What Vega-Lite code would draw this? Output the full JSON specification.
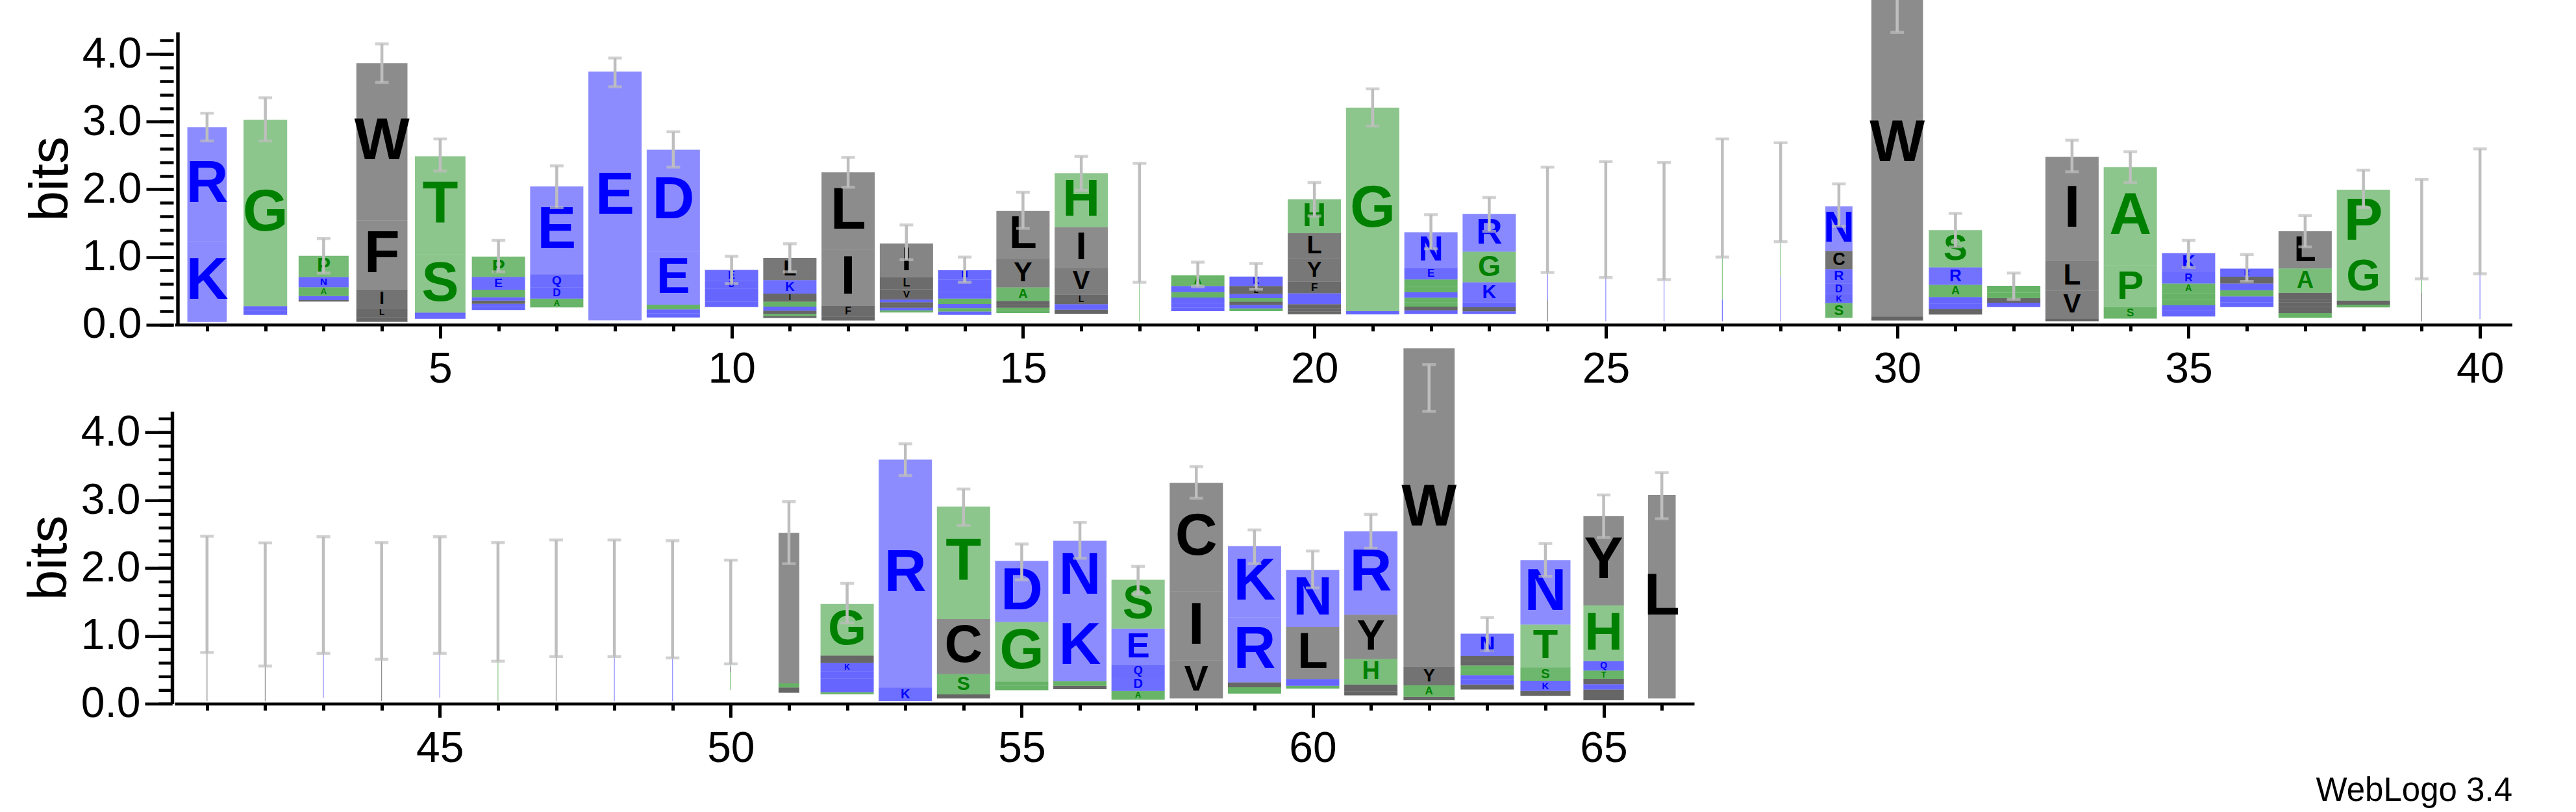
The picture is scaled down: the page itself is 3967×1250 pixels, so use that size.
{
"$schema": "https://vega.github.io/schema/vega-lite/v6.json",
"background": "white",
"padding": {"left": 34, "top": 0, "right": 0, "bottom": 0},
"autosize": {"type": "pad"},
"title": {"text": "WebLogo 3.4", "orient": "bottom", "anchor": "end", "font": "Liberation Sans", "fontSize": 51, "fontWeight": "normal", "color": "#000", "offset": 8},
"config": {
  "view": {"stroke": null},
  "axis": {"domainColor": "#000", "tickColor": "#000", "labelColor": "#000", "titleColor": "#000", "labelFont": "Liberation Sans", "titleFont": "Liberation Sans", "labelFontSize": 66, "titleFontSize": 84, "titleFontWeight": "normal", "grid": false, "tickWidth": 5, "domainWidth": 5, "labelFlush": false, "labelOverlap": false}
},
"datasets": {
"top_letters": [
{"pos":1,"aa":".","bits":0.038,"k":0},{"pos":1,"aa":"K","bits":1.196,"k":1},{"pos":1,"aa":"R","bits":1.683,"k":2},
{"pos":2,"aa":".","bits":0.144,"k":0},{"pos":2,"aa":"K","bits":0.07,"k":1},{"pos":2,"aa":"R","bits":0.06,"k":2},{"pos":2,"aa":"G","bits":2.754,"k":3},
{"pos":3,"aa":".","bits":0.341,"k":0},{"pos":3,"aa":"L","bits":0.02,"k":1},{"pos":3,"aa":"K","bits":0.03,"k":2},{"pos":3,"aa":"E","bits":0.03,"k":3},{"pos":3,"aa":"A","bits":0.13,"k":4},{"pos":3,"aa":"N","bits":0.152,"k":5},{"pos":3,"aa":"P","bits":0.315,"k":6},
{"pos":4,"aa":".","bits":0.04,"k":0},{"pos":4,"aa":"Y","bits":0.035,"k":1},{"pos":4,"aa":"V","bits":0.035,"k":2},{"pos":4,"aa":"L","bits":0.135,"k":3},{"pos":4,"aa":"I","bits":0.275,"k":4},{"pos":4,"aa":"F","bits":1.02,"k":5},{"pos":4,"aa":"W","bits":2.326,"k":6},
{"pos":5,"aa":".","bits":0.087,"k":0},{"pos":5,"aa":"K","bits":0.04,"k":1},{"pos":5,"aa":"N","bits":0.05,"k":2},{"pos":5,"aa":"S","bits":0.86,"k":3},{"pos":5,"aa":"T","bits":1.454,"k":4},
{"pos":6,"aa":".","bits":0.216,"k":0},{"pos":6,"aa":"N","bits":0.045,"k":1},{"pos":6,"aa":"K","bits":0.045,"k":2},{"pos":6,"aa":"L","bits":0.05,"k":3},{"pos":6,"aa":"D","bits":0.05,"k":4},{"pos":6,"aa":"A","bits":0.11,"k":5},{"pos":6,"aa":"E","bits":0.19,"k":6},{"pos":6,"aa":"P","bits":0.3,"k":7},
{"pos":7,"aa":".","bits":0.253,"k":0},{"pos":7,"aa":"A","bits":0.13,"k":1},{"pos":7,"aa":"D","bits":0.17,"k":2},{"pos":7,"aa":"Q","bits":0.19,"k":3},{"pos":7,"aa":"E","bits":1.3,"k":4},
{"pos":8,"aa":".","bits":0.061,"k":0},{"pos":8,"aa":"E","bits":3.68,"k":1},
{"pos":9,"aa":".","bits":0.106,"k":0},{"pos":9,"aa":"Q","bits":0.06,"k":1},{"pos":9,"aa":"N","bits":0.06,"k":2},{"pos":9,"aa":"T","bits":0.07,"k":3},{"pos":9,"aa":"E","bits":0.78,"k":4},{"pos":9,"aa":"D","bits":1.51,"k":5},
{"pos":10,"aa":".","bits":0.259,"k":0},{"pos":10,"aa":"N","bits":0.08,"k":1},{"pos":10,"aa":"Q","bits":0.09,"k":2},{"pos":10,"aa":"K","bits":0.1,"k":3},{"pos":10,"aa":"D","bits":0.12,"k":4},{"pos":10,"aa":"E","bits":0.16,"k":5},
{"pos":11,"aa":".","bits":0.097,"k":0},{"pos":11,"aa":"F","bits":0.03,"k":1},{"pos":11,"aa":"T","bits":0.03,"k":2},{"pos":11,"aa":"V","bits":0.05,"k":3},{"pos":11,"aa":"R","bits":0.06,"k":4},{"pos":11,"aa":"G","bits":0.07,"k":5},{"pos":11,"aa":"I","bits":0.12,"k":6},{"pos":11,"aa":"K","bits":0.2,"k":7},{"pos":11,"aa":"L","bits":0.33,"k":8},
{"pos":12,"aa":".","bits":0.06,"k":0},{"pos":12,"aa":"V","bits":0.06,"k":1},{"pos":12,"aa":"F","bits":0.16,"k":2},{"pos":12,"aa":"I","bits":0.83,"k":3},{"pos":12,"aa":"L","bits":1.142,"k":4},
{"pos":13,"aa":".","bits":0.18,"k":0},{"pos":13,"aa":"S","bits":0.03,"k":1},{"pos":13,"aa":"N","bits":0.04,"k":2},{"pos":13,"aa":"Y","bits":0.04,"k":3},{"pos":13,"aa":"F","bits":0.04,"k":4},{"pos":13,"aa":"K","bits":0.04,"k":5},{"pos":13,"aa":"V","bits":0.15,"k":6},{"pos":13,"aa":"L","bits":0.18,"k":7},{"pos":13,"aa":"I","bits":0.5,"k":8},
{"pos":14,"aa":".","bits":0.144,"k":0},{"pos":14,"aa":"R","bits":0.05,"k":1},{"pos":14,"aa":"S","bits":0.05,"k":2},{"pos":14,"aa":"D","bits":0.06,"k":3},{"pos":14,"aa":"G","bits":0.08,"k":4},{"pos":14,"aa":"K","bits":0.1,"k":5},{"pos":14,"aa":"Q","bits":0.08,"k":6},{"pos":14,"aa":"E","bits":0.1,"k":7},{"pos":14,"aa":"N","bits":0.14,"k":8},
{"pos":15,"aa":".","bits":0.17,"k":0},{"pos":15,"aa":"T","bits":0.04,"k":1},{"pos":15,"aa":"S","bits":0.04,"k":2},{"pos":15,"aa":"M","bits":0.04,"k":3},{"pos":15,"aa":"F","bits":0.06,"k":4},{"pos":15,"aa":"A","bits":0.2,"k":5},{"pos":15,"aa":"Y","bits":0.43,"k":6},{"pos":15,"aa":"L","bits":0.7,"k":7},
{"pos":16,"aa":".","bits":0.161,"k":0},{"pos":16,"aa":"F","bits":0.06,"k":1},{"pos":16,"aa":"D","bits":0.08,"k":2},{"pos":16,"aa":"L","bits":0.14,"k":3},{"pos":16,"aa":"V","bits":0.4,"k":4},{"pos":16,"aa":"I","bits":0.6,"k":5},{"pos":16,"aa":"H","bits":0.8,"k":6},
{"pos":17,"aa":".","bits":0.046,"k":0},{"pos":17,"aa":"S","bits":1.46,"k":1},
{"pos":18,"aa":".","bits":0.2,"k":0},{"pos":18,"aa":"N","bits":0.05,"k":1},{"pos":18,"aa":"D","bits":0.07,"k":2},{"pos":18,"aa":"K","bits":0.08,"k":3},{"pos":18,"aa":"G","bits":0.08,"k":4},{"pos":18,"aa":"E","bits":0.09,"k":5},{"pos":18,"aa":"A","bits":0.16,"k":6},
{"pos":19,"aa":".","bits":0.2,"k":0},{"pos":19,"aa":"G","bits":0.04,"k":1},{"pos":19,"aa":"D","bits":0.05,"k":2},{"pos":19,"aa":"F","bits":0.05,"k":3},{"pos":19,"aa":"S","bits":0.05,"k":4},{"pos":19,"aa":"E","bits":0.06,"k":5},{"pos":19,"aa":"L","bits":0.12,"k":6},{"pos":19,"aa":"K","bits":0.14,"k":7},
{"pos":20,"aa":".","bits":0.153,"k":0},{"pos":20,"aa":"V","bits":0.04,"k":1},{"pos":20,"aa":"I","bits":0.05,"k":2},{"pos":20,"aa":"W","bits":0.06,"k":3},{"pos":20,"aa":"E","bits":0.06,"k":4},{"pos":20,"aa":"K","bits":0.1,"k":5},{"pos":20,"aa":"F","bits":0.17,"k":6},{"pos":20,"aa":"Y","bits":0.34,"k":7},{"pos":20,"aa":"L","bits":0.38,"k":8},{"pos":20,"aa":"H","bits":0.5,"k":9},
{"pos":21,"aa":".","bits":0.15,"k":0},{"pos":21,"aa":"K","bits":0.05,"k":1},{"pos":21,"aa":"G","bits":3.009,"k":2},
{"pos":22,"aa":".","bits":0.157,"k":0},{"pos":22,"aa":"K","bits":0.055,"k":1},{"pos":22,"aa":"L","bits":0.055,"k":2},{"pos":22,"aa":"A","bits":0.06,"k":3},{"pos":22,"aa":"T","bits":0.07,"k":4},{"pos":22,"aa":"D","bits":0.08,"k":5},{"pos":22,"aa":"S","bits":0.09,"k":6},{"pos":22,"aa":"G","bits":0.1,"k":7},{"pos":22,"aa":"E","bits":0.17,"k":8},{"pos":22,"aa":"N","bits":0.53,"k":9},
{"pos":23,"aa":".","bits":0.157,"k":0},{"pos":23,"aa":"Q","bits":0.04,"k":1},{"pos":23,"aa":"L","bits":0.06,"k":2},{"pos":23,"aa":"N","bits":0.07,"k":3},{"pos":23,"aa":"K","bits":0.3,"k":4},{"pos":23,"aa":"G","bits":0.45,"k":5},{"pos":23,"aa":"R","bits":0.56,"k":6},
{"pos":24,"aa":".","bits":0.05,"k":0},{"pos":24,"aa":"L","bits":0.32,"k":1},{"pos":24,"aa":"D","bits":0.38,"k":2},{"pos":24,"aa":"S","bits":0.8,"k":3},
{"pos":25,"aa":".","bits":0.05,"k":0},{"pos":25,"aa":"N","bits":1.5,"k":1},
{"pos":26,"aa":".","bits":0.05,"k":0},{"pos":26,"aa":"N","bits":1.48,"k":1},
{"pos":27,"aa":".","bits":0.05,"k":0},{"pos":27,"aa":"N","bits":0.32,"k":1},{"pos":27,"aa":"S","bits":1.5,"k":2},
{"pos":28,"aa":".","bits":0.05,"k":0},{"pos":28,"aa":"N","bits":0.66,"k":1},{"pos":28,"aa":"G","bits":1.25,"k":2},
{"pos":29,"aa":".","bits":0.1,"k":0},{"pos":29,"aa":"S","bits":0.22,"k":1},{"pos":29,"aa":"K","bits":0.13,"k":2},{"pos":29,"aa":"D","bits":0.16,"k":3},{"pos":29,"aa":"R","bits":0.21,"k":4},{"pos":29,"aa":"C","bits":0.27,"k":5},{"pos":29,"aa":"N","bits":0.66,"k":6},
{"pos":30,"aa":".","bits":0.06,"k":0},{"pos":30,"aa":"F","bits":0.06,"k":1},{"pos":30,"aa":"W","bits":5.12,"k":2},
{"pos":31,"aa":".","bits":0.148,"k":0},{"pos":31,"aa":"L","bits":0.08,"k":1},{"pos":31,"aa":"K","bits":0.08,"k":2},{"pos":31,"aa":"N","bits":0.1,"k":3},{"pos":31,"aa":"A","bits":0.18,"k":4},{"pos":31,"aa":"R","bits":0.26,"k":5},{"pos":31,"aa":"S","bits":0.55,"k":6},
{"pos":32,"aa":".","bits":0.258,"k":0},{"pos":32,"aa":"N","bits":0.065,"k":1},{"pos":32,"aa":"L","bits":0.07,"k":2},{"pos":32,"aa":"S","bits":0.08,"k":3},{"pos":32,"aa":"A","bits":0.1,"k":4},
{"pos":33,"aa":".","bits":0.05,"k":0},{"pos":33,"aa":"F","bits":0.04,"k":1},{"pos":33,"aa":"V","bits":0.41,"k":2},{"pos":33,"aa":"L","bits":0.44,"k":3},{"pos":33,"aa":"I","bits":1.54,"k":4},
{"pos":34,"aa":".","bits":0.088,"k":0},{"pos":34,"aa":"S","bits":0.17,"k":1},{"pos":34,"aa":"P","bits":0.62,"k":2},{"pos":34,"aa":"A","bits":1.45,"k":3},
{"pos":35,"aa":".","bits":0.12,"k":0},{"pos":35,"aa":"N","bits":0.081,"k":1},{"pos":35,"aa":"D","bits":0.085,"k":2},{"pos":35,"aa":"G","bits":0.09,"k":3},{"pos":35,"aa":"S","bits":0.09,"k":4},{"pos":35,"aa":"A","bits":0.14,"k":5},{"pos":35,"aa":"R","bits":0.17,"k":6},{"pos":35,"aa":"K","bits":0.28,"k":7},
{"pos":36,"aa":".","bits":0.258,"k":0},{"pos":36,"aa":"D","bits":0.07,"k":1},{"pos":36,"aa":"E","bits":0.09,"k":2},{"pos":36,"aa":"G","bits":0.09,"k":3},{"pos":36,"aa":"K","bits":0.1,"k":4},{"pos":36,"aa":"L","bits":0.1,"k":5},{"pos":36,"aa":"R","bits":0.12,"k":6},
{"pos":37,"aa":".","bits":0.1,"k":0},{"pos":37,"aa":"S","bits":0.07,"k":1},{"pos":37,"aa":"V","bits":0.09,"k":2},{"pos":37,"aa":"I","bits":0.07,"k":3},{"pos":37,"aa":"M","bits":0.05,"k":4},{"pos":37,"aa":"F","bits":0.09,"k":5},{"pos":37,"aa":"A","bits":0.36,"k":6},{"pos":37,"aa":"L","bits":0.55,"k":7},
{"pos":38,"aa":".","bits":0.254,"k":0},{"pos":38,"aa":"A","bits":0.04,"k":1},{"pos":38,"aa":"V","bits":0.06,"k":2},{"pos":38,"aa":"G","bits":0.68,"k":3},{"pos":38,"aa":"P","bits":0.96,"k":4},
{"pos":39,"aa":".","bits":0.05,"k":0},{"pos":39,"aa":"L","bits":0.42,"k":1},{"pos":39,"aa":"G","bits":0.3,"k":2},{"pos":39,"aa":"N","bits":0.64,"k":3},
{"pos":40,"aa":".","bits":0.08,"k":0},{"pos":40,"aa":"N","bits":1.6,"k":1}
],
"top_cols": [
{"pos":1,"lo":2.716,"hi":3.126,"occ":0.74},{"pos":2,"lo":2.716,"hi":3.354,"occ":0.82},{"pos":3,"lo":0.763,"hi":1.272,"occ":0.94},{"pos":4,"lo":3.581,"hi":4.151,"occ":0.96},{"pos":5,"lo":2.271,"hi":2.746,"occ":0.95},
{"pos":6,"lo":0.779,"hi":1.246,"occ":1},{"pos":7,"lo":1.728,"hi":2.347,"occ":1},{"pos":8,"lo":3.517,"hi":3.942,"occ":1},{"pos":9,"lo":2.328,"hi":2.852,"occ":1},{"pos":10,"lo":0.608,"hi":1.01,"occ":1},
{"pos":11,"lo":0.779,"hi":1.196,"occ":1},{"pos":12,"lo":2.032,"hi":2.472,"occ":1},{"pos":13,"lo":0.961,"hi":1.474,"occ":1},{"pos":14,"lo":0.627,"hi":0.999,"occ":1},{"pos":15,"lo":1.424,"hi":1.956,"occ":1},
{"pos":16,"lo":1.986,"hi":2.488,"occ":1},{"pos":17,"lo":0.627,"hi":2.385,"occ":0.015},{"pos":18,"lo":0.562,"hi":0.923,"occ":1},{"pos":19,"lo":0.524,"hi":0.904,"occ":1},{"pos":20,"lo":1.607,"hi":2.1,"occ":1},
{"pos":21,"lo":2.936,"hi":3.486,"occ":1},{"pos":22,"lo":1.12,"hi":1.626,"occ":1},{"pos":23,"lo":1.379,"hi":1.88,"occ":1},{"pos":24,"lo":0.771,"hi":2.328,"occ":0.015},{"pos":25,"lo":0.695,"hi":2.41,"occ":0.015},
{"pos":26,"lo":0.665,"hi":2.397,"occ":0.015},{"pos":27,"lo":0.999,"hi":2.746,"occ":0.015},{"pos":28,"lo":1.227,"hi":2.689,"occ":0.015},{"pos":29,"lo":1.455,"hi":2.081,"occ":0.51},{"pos":30,"lo":4.322,"hi":5.0,"occ":0.97},
{"pos":31,"lo":1.151,"hi":1.644,"occ":1},{"pos":32,"lo":0.372,"hi":0.763,"occ":1},{"pos":33,"lo":2.26,"hi":2.727,"occ":1},{"pos":34,"lo":2.1,"hi":2.556,"occ":1},{"pos":35,"lo":0.847,"hi":1.246,"occ":1},
{"pos":36,"lo":0.638,"hi":1.037,"occ":1},{"pos":37,"lo":1.151,"hi":1.614,"occ":1},{"pos":38,"lo":1.728,"hi":2.283,"occ":1},{"pos":39,"lo":0.676,"hi":2.146,"occ":0.015},{"pos":40,"lo":0.752,"hi":2.599,"occ":0.015}
],
"bot_letters": [
{"pos":41,"aa":".","bits":0.04,"k":0},{"pos":41,"aa":"L","bits":1.57,"k":1},
{"pos":42,"aa":".","bits":0.04,"k":0},{"pos":42,"aa":"L","bits":1.43,"k":1},
{"pos":43,"aa":".","bits":0.09,"k":0},{"pos":43,"aa":"N","bits":1.51,"k":1},
{"pos":44,"aa":".","bits":0.04,"k":0},{"pos":44,"aa":"L","bits":1.47,"k":1},
{"pos":45,"aa":".","bits":0.09,"k":0},{"pos":45,"aa":"N","bits":1.51,"k":1},
{"pos":46,"aa":".","bits":0.04,"k":0},{"pos":46,"aa":"S","bits":1.45,"k":1},
{"pos":47,"aa":".","bits":0.04,"k":0},{"pos":47,"aa":"L","bits":1.52,"k":1},
{"pos":48,"aa":".","bits":0.04,"k":0},{"pos":48,"aa":"N","bits":1.51,"k":1},
{"pos":49,"aa":".","bits":0.04,"k":0},{"pos":49,"aa":"N","bits":1.5,"k":1},
{"pos":50,"aa":".","bits":0.2,"k":0},{"pos":50,"aa":"G","bits":0.27,"k":1},{"pos":50,"aa":"L","bits":0.08,"k":2},{"pos":50,"aa":"S","bits":0.8,"k":3},
{"pos":51,"aa":".","bits":0.16,"k":0},{"pos":51,"aa":"V","bits":0.08,"k":1},{"pos":51,"aa":"G","bits":0.06,"k":2},{"pos":51,"aa":"L","bits":2.22,"k":3},
{"pos":52,"aa":".","bits":0.14,"k":0},{"pos":52,"aa":"S","bits":0.03,"k":1},{"pos":52,"aa":"N","bits":0.1,"k":2},{"pos":52,"aa":"D","bits":0.1,"k":3},{"pos":52,"aa":"R","bits":0.11,"k":4},{"pos":52,"aa":"K","bits":0.12,"k":5},{"pos":52,"aa":"L","bits":0.11,"k":6},{"pos":52,"aa":"G","bits":0.76,"k":7},
{"pos":53,"aa":".","bits":0.04,"k":0},{"pos":53,"aa":"K","bits":0.2,"k":1},{"pos":53,"aa":"R","bits":3.36,"k":2},
{"pos":54,"aa":".","bits":0.077,"k":0},{"pos":54,"aa":"L","bits":0.06,"k":1},{"pos":54,"aa":"S","bits":0.3,"k":2},{"pos":54,"aa":"C","bits":0.81,"k":3},{"pos":54,"aa":"T","bits":1.66,"k":4},
{"pos":55,"aa":".","bits":0.2,"k":0},{"pos":55,"aa":"T","bits":0.065,"k":1},{"pos":55,"aa":"S","bits":0.06,"k":2},{"pos":55,"aa":"G","bits":0.88,"k":3},{"pos":55,"aa":"D","bits":0.9,"k":4},
{"pos":56,"aa":".","bits":0.213,"k":0},{"pos":56,"aa":"L","bits":0.05,"k":1},{"pos":56,"aa":"T","bits":0.07,"k":2},{"pos":56,"aa":"K","bits":1.02,"k":3},{"pos":56,"aa":"N","bits":1.05,"k":4},
{"pos":57,"aa":".","bits":0.06,"k":0},{"pos":57,"aa":"A","bits":0.127,"k":1},{"pos":57,"aa":"D","bits":0.2,"k":2},{"pos":57,"aa":"Q","bits":0.18,"k":3},{"pos":57,"aa":"E","bits":0.54,"k":4},{"pos":57,"aa":"S","bits":0.72,"k":5},
{"pos":58,"aa":".","bits":0.077,"k":0},{"pos":58,"aa":"V","bits":0.56,"k":1},{"pos":58,"aa":"I","bits":1.02,"k":2},{"pos":58,"aa":"C","bits":1.6,"k":3},
{"pos":59,"aa":".","bits":0.15,"k":0},{"pos":59,"aa":"T","bits":0.093,"k":1},{"pos":59,"aa":"L","bits":0.07,"k":2},{"pos":59,"aa":"R","bits":0.96,"k":3},{"pos":59,"aa":"K","bits":1.05,"k":4},
{"pos":60,"aa":".","bits":0.224,"k":0},{"pos":60,"aa":"T","bits":0.04,"k":1},{"pos":60,"aa":"E","bits":0.1,"k":2},{"pos":60,"aa":"L","bits":0.77,"k":3},{"pos":60,"aa":"N","bits":0.84,"k":4},
{"pos":61,"aa":".","bits":0.122,"k":0},{"pos":61,"aa":"F","bits":0.06,"k":1},{"pos":61,"aa":"L","bits":0.1,"k":2},{"pos":61,"aa":"H","bits":0.38,"k":3},{"pos":61,"aa":"Y","bits":0.65,"k":4},{"pos":61,"aa":"R","bits":1.23,"k":5},
{"pos":62,"aa":".","bits":0.05,"k":0},{"pos":62,"aa":"F","bits":0.05,"k":1},{"pos":62,"aa":"A","bits":0.17,"k":2},{"pos":62,"aa":"Y","bits":0.27,"k":3},{"pos":62,"aa":"W","bits":4.7,"k":4},
{"pos":63,"aa":".","bits":0.208,"k":0},{"pos":63,"aa":"F","bits":0.075,"k":1},{"pos":63,"aa":"D","bits":0.07,"k":2},{"pos":63,"aa":"E","bits":0.07,"k":3},{"pos":63,"aa":"G","bits":0.07,"k":4},{"pos":63,"aa":"S","bits":0.07,"k":5},{"pos":63,"aa":"I","bits":0.07,"k":6},{"pos":63,"aa":"L","bits":0.07,"k":7},{"pos":63,"aa":"N","bits":0.33,"k":8},
{"pos":64,"aa":".","bits":0.117,"k":0},{"pos":64,"aa":"V","bits":0.07,"k":1},{"pos":64,"aa":"K","bits":0.15,"k":2},{"pos":64,"aa":"S","bits":0.2,"k":3},{"pos":64,"aa":"T","bits":0.63,"k":4},{"pos":64,"aa":"N","bits":0.95,"k":5},
{"pos":65,"aa":".","bits":0.05,"k":0},{"pos":65,"aa":"F","bits":0.078,"k":1},{"pos":65,"aa":"V","bits":0.08,"k":2},{"pos":65,"aa":"K","bits":0.08,"k":3},{"pos":65,"aa":"L","bits":0.08,"k":4},{"pos":65,"aa":"T","bits":0.12,"k":5},{"pos":65,"aa":"Q","bits":0.14,"k":6},{"pos":65,"aa":"H","bits":0.82,"k":7},{"pos":65,"aa":"Y","bits":1.32,"k":8},
{"pos":66,"aa":".","bits":0.078,"k":0},{"pos":66,"aa":"L","bits":3.0,"k":1}
],
"bot_cols": [
{"pos":41,"lo":0.755,"hi":2.47,"occ":0.015},{"pos":42,"lo":0.556,"hi":2.371,"occ":0.015},{"pos":43,"lo":0.743,"hi":2.462,"occ":0.015},{"pos":44,"lo":0.655,"hi":2.375,"occ":0.015},{"pos":45,"lo":0.743,"hi":2.462,"occ":0.015},
{"pos":46,"lo":0.627,"hi":2.375,"occ":0.015},{"pos":47,"lo":0.695,"hi":2.415,"occ":0.015},{"pos":48,"lo":0.695,"hi":2.415,"occ":0.015},{"pos":49,"lo":0.675,"hi":2.403,"occ":0.015},{"pos":50,"lo":0.588,"hi":2.117,"occ":0.015},
{"pos":51,"lo":2.065,"hi":2.979,"occ":0.39},{"pos":52,"lo":1.191,"hi":1.775,"occ":1},{"pos":53,"lo":3.364,"hi":3.832,"occ":1},{"pos":54,"lo":2.629,"hi":3.165,"occ":1},{"pos":55,"lo":1.827,"hi":2.355,"occ":1},
{"pos":56,"lo":2.145,"hi":2.673,"occ":1},{"pos":57,"lo":1.616,"hi":2.025,"occ":1},{"pos":58,"lo":3.03,"hi":3.495,"occ":1},{"pos":59,"lo":2.065,"hi":2.562,"occ":1},{"pos":60,"lo":1.708,"hi":2.252,"occ":1},
{"pos":61,"lo":2.292,"hi":2.792,"occ":1},{"pos":62,"lo":4.31,"hi":5.0,"occ":0.96},{"pos":63,"lo":0.782,"hi":1.271,"occ":1},{"pos":64,"lo":1.878,"hi":2.363,"occ":0.94},{"pos":65,"lo":2.45,"hi":3.078,"occ":0.76},
{"pos":66,"lo":2.728,"hi":3.407,"occ":0.52}
]
},
"spacing": 133.3,
"bounds": "flush",
"vconcat": [
{
 "width": 3600, "height": 499.7,
 "resolve": {"scale": {"size": "independent", "opacity": "independent"}, "axis": {"x": "independent", "y": "independent"}},
 "layer": [
  {
   "data": {"name": "top_letters"},
   "transform": [
     {"lookup": "pos", "from": {"data": {"name": "top_cols"}, "key": "pos", "fields": ["occ"]}},
     {"stack": "bits", "groupby": ["pos"], "sort": [{"field": "k", "order": "ascending"}], "as": ["y0", "y1"]},
     {"filter": "datum.aa !== '.'"}
   ],
   "mark": {"type": "bar", "clip": true},
   "encoding": {
     "x": {"field": "pos", "type": "quantitative", "scale": {"domain": [0.5, 40.5], "nice": false, "zero": false},
           "axis": {"orient": "bottom", "values": [5,10,15,20,25,30,35,40], "format": "d", "tickSize": 21, "labelPadding": 16, "domainWidth": 4.5, "title": null}},
     "y": {"field": "y0", "type": "quantitative", "stack": null, "scale": {"domain": [0, 4.8], "nice": false},
           "axis": {"orient": "left", "values": [0,1,2,3,4], "format": ".1f", "tickSize": 42, "tickWidth": 4.5, "labelPadding": 7, "offset": 2, "domain": false, "title": "bits", "titleY": 275, "titlePadding": 5}},
     "y2": {"field": "y1"},
     "size": {"field": "occ", "type": "quantitative", "scale": {"domain": [0, 1], "range": [0, 82]}, "legend": null},
     "color": {"field": "aa", "type": "nominal", "legend": null,
               "scale": {"domain": ["A","C","D","E","F","G","H","I","K","L","M","N","P","Q","R","S","T","V","W","Y"],
                         "range": ["#008000","#000000","#0000ff","#0000ff","#000000","#008000","#008000","#000000","#0000ff","#000000","#000000","#0000ff","#008000","#0000ff","#0000ff","#008000","#008000","#000000","#000000","#000000"]}},
     "opacity": {"field": "bits", "type": "quantitative", "legend": null, "scale": {"domain": [0.1, 0.6], "range": [0.6, 0.45], "clamp": true}}
   }
  },
  {
   "data": {"name": "top_letters"},
   "transform": [
     {"lookup": "pos", "from": {"data": {"name": "top_cols"}, "key": "pos", "fields": ["occ"]}},
     {"stack": "bits", "groupby": ["pos"], "sort": [{"field": "k", "order": "ascending"}], "as": ["y0", "y1"]},
     {"filter": "datum.aa !== '.' && datum.bits >= 0.12 && datum.occ >= 0.5"},
     {"fold": ["y0", "y1"], "as": ["edge", "yy"]},
     {"aggregate": [{"op": "mean", "field": "yy", "as": "mid"}], "groupby": ["pos", "aa", "bits"]}
   ],
   "mark": {"type": "text", "font": "Liberation Sans", "fontWeight": "bold", "baseline": "middle", "align": "center", "clip": true},
   "encoding": {
     "x": {"field": "pos", "type": "quantitative", "axis": null},
     "y": {"field": "mid", "type": "quantitative", "axis": null},
     "text": {"field": "aa"},
     "size": {"field": "bits", "type": "quantitative", "legend": null, "scale": {"domain": [0, 0.9], "range": [0, 90], "clamp": true}},
     "color": {"field": "aa", "type": "nominal", "legend": null}
   }
  },
  {
   "data": {"name": "top_cols"},
   "mark": {"type": "rule", "color": "#bebebe", "strokeWidth": 4.5, "clip": true},
   "encoding": {
     "x": {"field": "pos", "type": "quantitative", "axis": {"orient": "bottom", "values": [1,2,3,4,5,6,7,8,9,10,11,12,13,14,15,16,17,18,19,20,21,22,23,24,25,26,27,28,29,30,31,32,33,34,35,36,37,38,39,40], "labels": false, "tickSize": 10, "domain": false, "title": null}},
     "y": {"field": "lo", "type": "quantitative", "axis": {"orient": "left", "values": [0,0.2,0.4,0.6,0.8,1,1.2,1.4,1.6,1.8,2,2.2,2.4,2.6,2.8,3,3.2,3.4,3.6,3.8,4,4.2], "labels": false, "tickSize": 21, "tickWidth": 4.5, "offset": 2, "domain": false, "title": null}},
     "y2": {"field": "hi"}
   }
  },
  {
   "data": {"name": "top_cols"},
   "transform": [{"fold": ["lo", "hi"], "as": ["end", "v"]}],
   "mark": {"type": "tick", "orient": "horizontal", "size": 21, "thickness": 4.5, "color": "#bebebe", "clip": true},
   "encoding": {
     "x": {"field": "pos", "type": "quantitative", "axis": null},
     "y": {"field": "v", "type": "quantitative", "axis": null}
   }
  },
  {
   "data": {"values": [{}]},
   "mark": {"type": "rule", "color": "#000", "strokeWidth": 5.4},
   "encoding": {
     "x": {"datum": 0.5, "type": "quantitative", "axis": null},
     "y": {"datum": 0, "type": "quantitative", "axis": null},
     "y2": {"datum": 4.3219}
   }
  }
 ]
},
{
 "width": 2340, "height": 450,
 "resolve": {"scale": {"size": "independent", "opacity": "independent"}, "axis": {"x": "independent", "y": "independent"}},
 "layer": [
  {
   "data": {"name": "bot_letters"},
   "transform": [
     {"lookup": "pos", "from": {"data": {"name": "bot_cols"}, "key": "pos", "fields": ["occ"]}},
     {"stack": "bits", "groupby": ["pos"], "sort": [{"field": "k", "order": "ascending"}], "as": ["y0", "y1"]},
     {"filter": "datum.aa !== '.'"}
   ],
   "mark": {"type": "bar"},
   "encoding": {
     "x": {"field": "pos", "type": "quantitative", "scale": {"domain": [40.5, 66.5], "nice": false, "zero": false},
           "axis": {"orient": "bottom", "values": [45,50,55,60,65], "format": "d", "tickSize": 21, "labelPadding": 16, "domainWidth": 4.5, "title": null}},
     "y": {"field": "y0", "type": "quantitative", "stack": null, "scale": {"domain": [0, 4.31], "nice": false},
           "axis": {"orient": "left", "values": [0,1,2,3,4], "format": ".1f", "tickSize": 42, "tickWidth": 4.5, "labelPadding": 7, "offset": 4, "domain": true, "domainWidth": 5.4, "title": "bits", "titlePadding": 5}},
     "y2": {"field": "y1"},
     "size": {"field": "occ", "type": "quantitative", "scale": {"domain": [0, 1], "range": [0, 82]}, "legend": null},
     "color": {"field": "aa", "type": "nominal", "legend": null,
               "scale": {"domain": ["A","C","D","E","F","G","H","I","K","L","M","N","P","Q","R","S","T","V","W","Y"],
                         "range": ["#008000","#000000","#0000ff","#0000ff","#000000","#008000","#008000","#000000","#0000ff","#000000","#000000","#0000ff","#008000","#0000ff","#0000ff","#008000","#008000","#000000","#000000","#000000"]}},
     "opacity": {"field": "bits", "type": "quantitative", "legend": null, "scale": {"domain": [0.1, 0.6], "range": [0.6, 0.45], "clamp": true}}
   }
  },
  {
   "data": {"name": "bot_letters"},
   "transform": [
     {"lookup": "pos", "from": {"data": {"name": "bot_cols"}, "key": "pos", "fields": ["occ"]}},
     {"stack": "bits", "groupby": ["pos"], "sort": [{"field": "k", "order": "ascending"}], "as": ["y0", "y1"]},
     {"filter": "datum.aa !== '.' && datum.bits >= 0.12 && datum.occ >= 0.5"},
     {"fold": ["y0", "y1"], "as": ["edge", "yy"]},
     {"aggregate": [{"op": "mean", "field": "yy", "as": "mid"}], "groupby": ["pos", "aa", "bits"]}
   ],
   "mark": {"type": "text", "font": "Liberation Sans", "fontWeight": "bold", "baseline": "middle", "align": "center"},
   "encoding": {
     "x": {"field": "pos", "type": "quantitative", "axis": null},
     "y": {"field": "mid", "type": "quantitative", "axis": null},
     "text": {"field": "aa"},
     "size": {"field": "bits", "type": "quantitative", "legend": null, "scale": {"domain": [0, 0.9], "range": [0, 90], "clamp": true}},
     "color": {"field": "aa", "type": "nominal", "legend": null}
   }
  },
  {
   "data": {"name": "bot_cols"},
   "mark": {"type": "rule", "color": "#bebebe", "strokeWidth": 4.5},
   "encoding": {
     "x": {"field": "pos", "type": "quantitative", "axis": {"orient": "bottom", "values": [41,42,43,44,45,46,47,48,49,50,51,52,53,54,55,56,57,58,59,60,61,62,63,64,65,66], "labels": false, "tickSize": 10, "domain": false, "title": null}},
     "y": {"field": "lo", "type": "quantitative", "axis": {"orient": "left", "values": [0,0.2,0.4,0.6,0.8,1,1.2,1.4,1.6,1.8,2,2.2,2.4,2.6,2.8,3,3.2,3.4,3.6,3.8,4,4.2], "labels": false, "tickSize": 21, "tickWidth": 4.5, "offset": 4, "domain": false, "title": null}},
     "y2": {"field": "hi"}
   }
  },
  {
   "data": {"name": "bot_cols"},
   "transform": [{"fold": ["lo", "hi"], "as": ["end", "v"]}],
   "mark": {"type": "tick", "orient": "horizontal", "size": 21, "thickness": 4.5, "color": "#bebebe"},
   "encoding": {
     "x": {"field": "pos", "type": "quantitative", "axis": null},
     "y": {"field": "v", "type": "quantitative", "axis": null}
   }
  }
 ]
}
]
}
